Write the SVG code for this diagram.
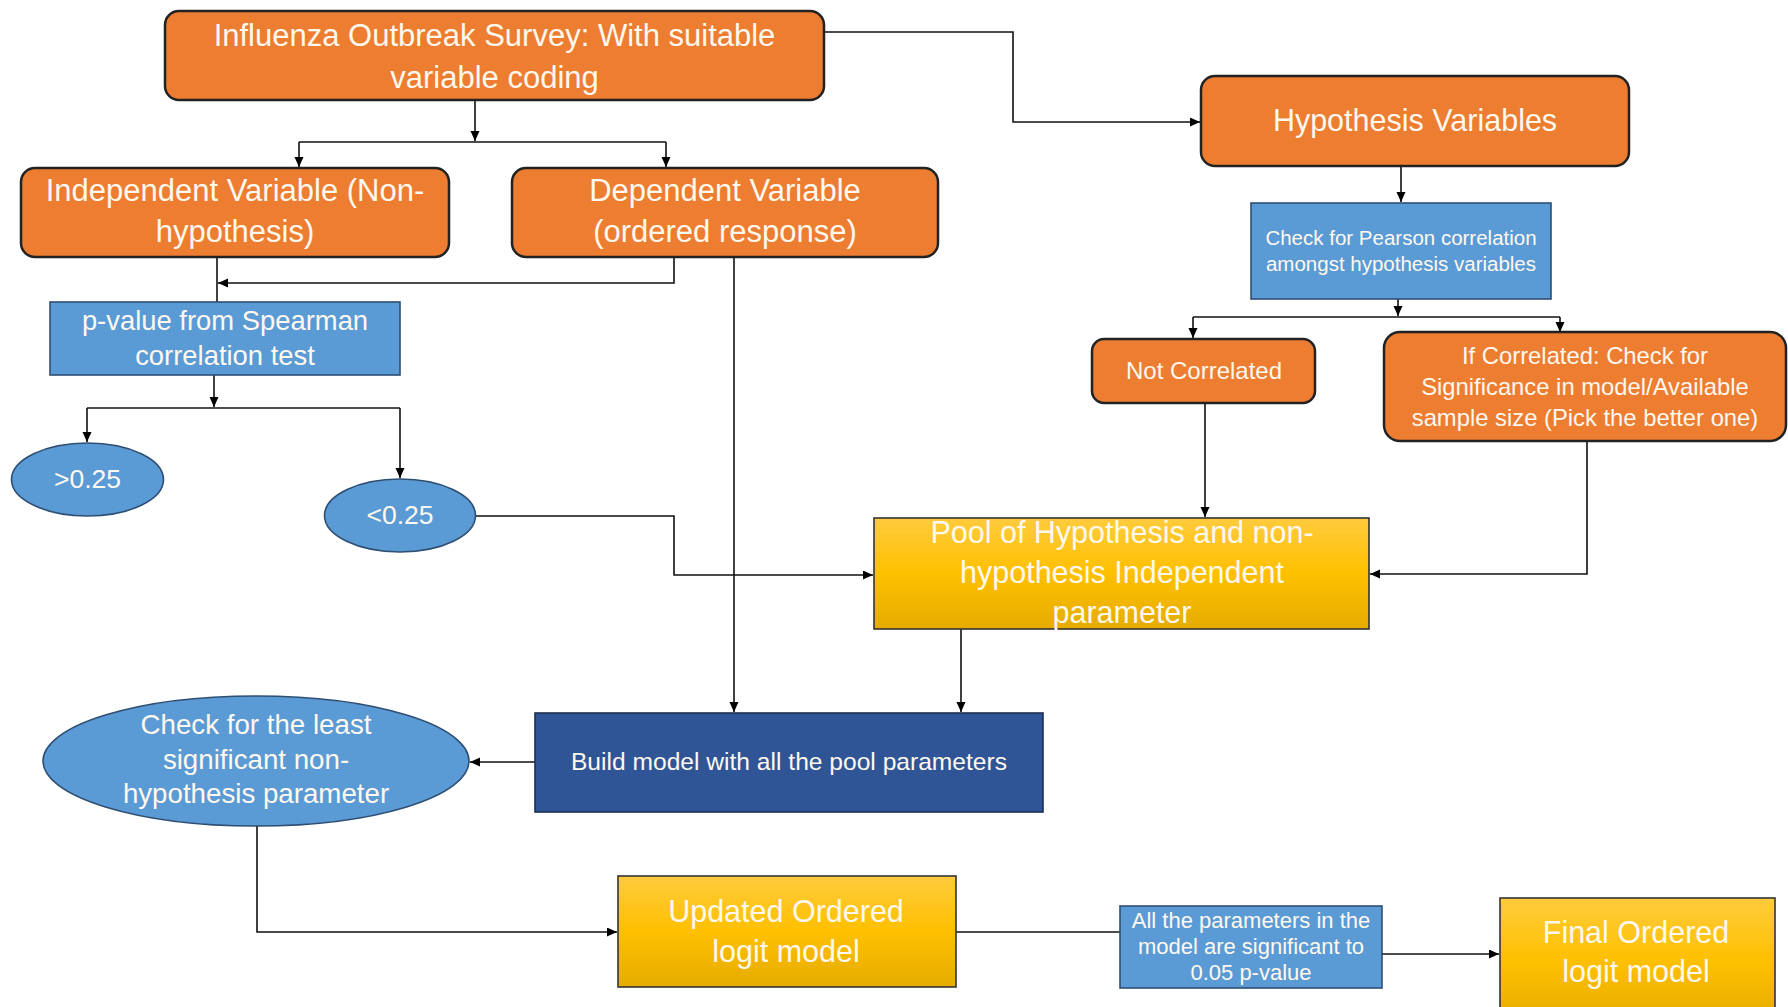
<svg xmlns="http://www.w3.org/2000/svg" width="1788" height="1007" viewBox="0 0 1788 1007">
<style>
.orange{fill:#ED7D31;stroke:#222;stroke-width:2.5}
.blue{fill:#5B9BD5;stroke:#2E4F73;stroke-width:1.6}
.navy{fill:#2F5597;stroke:#1F2F50;stroke-width:1.6}
.yellow{fill:url(#yg);stroke:#333;stroke-width:1.6}
.t{font-family:"Liberation Sans",Arial,sans-serif;fill:#FFF8EE;text-anchor:middle}
.c{fill:none;stroke:#111;stroke-width:1.6}
.a{marker-end:url(#ah)}
</style>
<defs>
<linearGradient id="yg" x1="0" y1="0" x2="0" y2="1">
<stop offset="0" stop-color="#FFCB3D"/>
<stop offset="0.5" stop-color="#FFC000"/>
<stop offset="1" stop-color="#E5AC00"/>
</linearGradient>
<marker id="ah" markerUnits="userSpaceOnUse" markerWidth="11" markerHeight="10" refX="10" refY="4.5" orient="auto">
<path d="M0,0 L10,4.5 L0,9 z" fill="#000"/>
</marker>
</defs>
<rect width="1788" height="1007" fill="#fff"/>

<g id="connectors">
<path class="c a" d="M475,100 V141"/>
<path class="c" d="M299,142 H666"/>
<path class="c a" d="M299,142 V167"/>
<path class="c a" d="M666,142 V167"/>
<path class="c a" d="M824,32 H1013 V122 H1200"/>
<path class="c a" d="M1401,166 V202"/>
<path class="c a" d="M1398,299 V316"/>
<path class="c" d="M1193,317 H1560"/>
<path class="c a" d="M1193,317 V338"/>
<path class="c a" d="M1560,317 V332"/>
<path class="c" d="M217,257 V302"/>
<path class="c a" d="M674,257 V283 H218"/>
<path class="c a" d="M734,257 V712"/>
<path class="c a" d="M214,375 V407"/>
<path class="c" d="M87,408 H400"/>
<path class="c a" d="M87,408 V442"/>
<path class="c a" d="M400,408 V478"/>
<path class="c a" d="M475.5,516 H674 V575 H873"/>
<path class="c a" d="M1205,403 V517"/>
<path class="c a" d="M1587,441 V574 H1370"/>
<path class="c a" d="M961,629 V712"/>
<path class="c a" d="M535,762 H470"/>
<path class="c a" d="M257,826 V932 H617"/>
<path class="c" d="M956,932 H1120"/>
<path class="c a" d="M1382,954 H1499"/>
</g>

<g id="survey">
<rect class="orange" x="165" y="11" width="659" height="89" rx="14"/>
<text class="t" font-size="31"><tspan x="494.5" y="46">Influenza Outbreak Survey: With suitable</tspan><tspan x="494.5" y="88">variable coding</tspan></text>
</g>

<g id="independent">
<rect class="orange" x="21" y="168" width="428" height="89" rx="14"/>
<text class="t" font-size="31"><tspan x="235" y="201">Independent Variable (Non-</tspan><tspan x="235" y="242">hypothesis)</tspan></text>
</g>

<g id="dependent">
<rect class="orange" x="512" y="168" width="426" height="89" rx="14"/>
<text class="t" font-size="31"><tspan x="725" y="201">Dependent Variable</tspan><tspan x="725" y="242">(ordered response)</tspan></text>
</g>

<g id="hypothesis">
<rect class="orange" x="1201" y="76" width="428" height="90" rx="14"/>
<text class="t" font-size="30.5" x="1415" y="131">Hypothesis Variables</text>
</g>

<g id="pearson">
<rect class="blue" x="1251" y="203" width="300" height="96"/>
<text class="t" font-size="20.5"><tspan x="1401" y="245">Check for Pearson correlation</tspan><tspan x="1401" y="271">amongst hypothesis variables</tspan></text>
</g>

<g id="notcorrelated">
<rect class="orange" x="1092" y="339" width="223" height="64" rx="12"/>
<text class="t" font-size="24" x="1204" y="379">Not Correlated</text>
</g>

<g id="ifcorrelated">
<rect class="orange" x="1384" y="332" width="402" height="109" rx="16"/>
<text class="t" font-size="23.8"><tspan x="1585" y="364">If Correlated: Check for</tspan><tspan x="1585" y="395">Significance in model/Available</tspan><tspan x="1585" y="426">sample size (Pick the better one)</tspan></text>
</g>

<g id="pvalue">
<rect class="blue" x="50" y="302" width="350" height="73"/>
<text class="t" font-size="27.4"><tspan x="225" y="330">p-value from Spearman</tspan><tspan x="225" y="365">correlation test</tspan></text>
</g>

<g id="gt025">
<ellipse class="blue" cx="87.5" cy="479.5" rx="76" ry="36.5"/>
<text class="t" font-size="26.5" x="87.5" y="488">&gt;0.25</text>
</g>

<g id="lt025">
<ellipse class="blue" cx="400" cy="515.5" rx="75.5" ry="36.5"/>
<text class="t" font-size="26.5" x="400" y="524">&lt;0.25</text>
</g>

<g id="pool">
<rect class="yellow" x="874" y="518" width="495" height="111"/>
<text class="t" font-size="30.5"><tspan x="1122" y="543">Pool of Hypothesis and non-</tspan><tspan x="1122" y="583">hypothesis Independent</tspan><tspan x="1122" y="623">parameter</tspan></text>
</g>

<g id="build">
<rect class="navy" x="535" y="713" width="508" height="99"/>
<text class="t" font-size="24.6" x="789" y="770">Build model with all the pool parameters</text>
</g>

<g id="leastsig">
<ellipse class="blue" cx="256" cy="761" rx="213" ry="65"/>
<text class="t" font-size="27.7"><tspan x="256" y="734">Check for the least</tspan><tspan x="256" y="769">significant non-</tspan><tspan x="256" y="803">hypothesis parameter</tspan></text>
</g>

<g id="updated">
<rect class="yellow" x="618" y="876" width="338" height="111"/>
<text class="t" font-size="30.5"><tspan x="786" y="922">Updated Ordered</tspan><tspan x="786" y="962">logit model</tspan></text>
</g>

<g id="allsig">
<rect class="blue" x="1120" y="906" width="262" height="82"/>
<text class="t" font-size="22"><tspan x="1251" y="928">All the parameters in the</tspan><tspan x="1251" y="954">model are significant to</tspan><tspan x="1251" y="980">0.05 p-value</tspan></text>
</g>

<g id="final">
<rect class="yellow" x="1500" y="898" width="275" height="125"/>
<text class="t" font-size="30.5"><tspan x="1636" y="943">Final Ordered</tspan><tspan x="1636" y="982">logit model</tspan></text>
</g>
</svg>
